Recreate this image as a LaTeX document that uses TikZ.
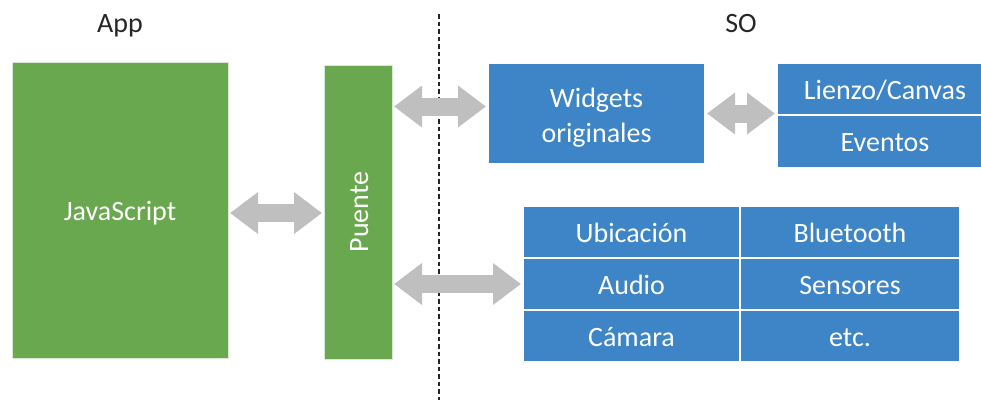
\documentclass[tikz,border=0pt]{standalone}
\usepackage{fontspec}
\setmainfont{Carlito}
\usetikzlibrary{arrows.meta,calc}
\definecolor{boxgreen}{RGB}{106,168,79}
\definecolor{boxblue}{RGB}{61,133,198}
\definecolor{arrowgray}{RGB}{191,191,191}
\definecolor{labeltext}{RGB}{38,38,38}
\begin{document}
\begin{tikzpicture}[x=1pt,y=-1pt,
  every node/.style={font=\fontsize{28}{35}\selectfont, inner sep=0pt, outer sep=0pt},
  line/.style={text height=20pt, text depth=0pt},
  gbox/.style={fill=boxgreen, draw=white!75!boxgreen, line width=0.8pt, text=white},
  bbox/.style={fill=boxblue, draw=white, line width=1.4pt, text=white, align=center},
  cell/.style={bbox, line, minimum height=52pt},
  head/.style={line, text=labeltext},
  link/.style={arrowgray, line width=18pt,
    {Triangle[length=28pt,width=40pt]}-{Triangle[length=28pt,width=40pt]},
    shorten <=2pt, shorten >=2pt},
  divider/.style={line width=1.5pt, draw=black!85, dash pattern=on 4.5pt off 3pt},
]
\useasboundingbox (0,0) rectangle (981,400);

% column headings
\node[head] (app) at (120,22) {App};
\node[head] (so)  at (741,22) {SO};

% app side
\node[gbox, line, minimum width=216pt, minimum height=296pt] (js) at (120,210) {JavaScript};
\node[gbox, minimum width=68pt, minimum height=294pt] (pu) at (358,212) {};
\node[line, text=white, rotate=90] (putext) at (pu.center) {Puente};

% boundary between app and OS
\coordinate (dtop) at (439,14);
\coordinate (dbot) at (439,400);
\draw[divider] (dtop) -- (dbot);

% OS side: native widgets
\node[bbox, minimum width=217pt, minimum height=101pt,
      label={[align=center, text=white, yshift=-4pt]center:{Widgets\\originales}}] (wid) at (596.5,113.5) {};
\node[cell, minimum width=216pt] (lie) at (885,89) {Lienzo/Canvas};
\node[cell, minimum width=216pt, minimum height=53pt] (evt) at (885,141.5) {Eventos};

% OS side: services
\node[cell, minimum width=217pt] (ubi) at (631.5,232) {Ubicación};
\node[cell, minimum width=220pt] (blu) at (850,232) {Bluetooth};
\node[cell, minimum width=217pt] (aud) at (631.5,284) {Audio};
\node[cell, minimum width=220pt] (sen) at (850,284) {Sensores};
\node[cell, minimum width=217pt] (cam) at (631.5,336) {Cámara};
\node[cell, minimum width=220pt] (etc) at (850,336) {etc.};

% two-way links
\draw[link] ($(js.east)+(0,3)$) -- ($(js.east -| pu.west)+(0,3)$);
\draw[link] ($(pu.east |- wid.west)+(0,-7)$) -- ($(wid.west)+(0,-7)$);
\draw[link] (wid.east) -- (wid.east -| lie.west);
\draw[link] (pu.east |- aud.west) -- (aud.west);
\end{tikzpicture}
\end{document}
